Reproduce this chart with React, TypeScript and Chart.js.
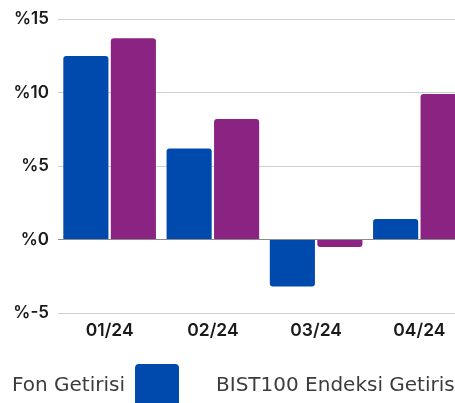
import React, { useEffect, useRef } from 'react';
import { Chart, registerables } from 'chart.js';

Chart.register(...registerables);

const categories = ['01/24', '02/24', '03/24', '04/24'];
const fundReturns = [12.5, 6.2, -3.2, 1.4];
const indexReturns = [13.7, 8.2, -0.5, 9.9];
const seriesNames = ['Fon Getirisi', 'BIST100 Endeksi Getirisi'];
const yTickValues = [-5, 0, 5, 10, 15];

const TICK_FONT = 'Inter, "Open Sans", sans-serif';
const LEGEND_FONT = '"DejaVu Sans", Inter, sans-serif';

export default function App() {
  const ref = useRef<HTMLCanvasElement>(null);

  useEffect(() => {
    if (!ref.current) return;
    const chart = new Chart(ref.current, {
      type: 'bar',
      data: {
        labels: categories,
        datasets: [
          {
            label: seriesNames[0],
            data: fundReturns,
            backgroundColor: '#004AAD',
            borderColor: '#004AAD',
            borderWidth: 0,
            borderRadius: 3,
            categoryPercentage: 0.92,
            barPercentage: 0.95,
          },
          {
            label: seriesNames[1],
            data: indexReturns,
            backgroundColor: '#8A2382',
            borderColor: '#8A2382',
            borderWidth: 0,
            borderRadius: 3,
            categoryPercentage: 0.92,
            barPercentage: 0.95,
          },
        ],
      },
      options: {
        animation: false,
        responsive: false,
        devicePixelRatio: 1,
        layout: { padding: 0 },
        scales: {
          x: {
            type: 'category',
            grid: { display: false },
            border: { display: false },
            ticks: {
              mirror: true,
              padding: -28,
              color: '#1a1a1a',
              font: { family: TICK_FONT, size: 17.5, weight: '600' },
            },
            afterFit: (s: any) => {
              s.height = 14;
            },
          },
          y: {
            type: 'linear',
            position: 'left',
            min: -5,
            max: 15,
            border: { display: false },
            grid: {
              drawTicks: false,
              lineWidth: 1,
              color: (ctx: any) => (ctx.tick && ctx.tick.value === 0 ? '#8a8a8a' : '#cfcfcf'),
            },
            afterBuildTicks: (s: any) => {
              s.ticks = yTickValues.map((v) => ({ value: v }));
            },
            ticks: {
              padding: 9,
              color: '#1a1a1a',
              font: { family: TICK_FONT, size: 17, weight: '600' },
              callback: (v: any) => '%' + v,
            },
            afterFit: (s: any) => {
              s.width = 83;
            },
          },
          yR: {
            type: 'linear',
            position: 'right',
            display: true,
            grid: { display: false },
            border: { display: false },
            ticks: { display: false },
            afterFit: (s: any) => {
              s.width = 104;
            },
          },
        },
        plugins: {
          tooltip: { enabled: false },
          legend: {
            display: true,
            position: 'bottom',
            align: 'end',
            rtl: true,
            reverse: true,
            textDirection: 'ltr',
            labels: {
              boxWidth: 44,
              boxHeight: 44,
              padding: 37,
              color: '#3c3c3c',
              useBorderRadius: true,
              borderRadius: 4,
              font: { family: LEGEND_FONT, size: 20, weight: '400' },
            },
          },
        },
      },
    } as any);
    return () => chart.destroy();
  }, []);

  return (
    <div style={{ position: 'fixed', left: 0, top: 0, width: 455, height: 403, overflow: 'hidden', background: '#fff' }}>
      <div style={{ position: 'absolute', left: -25, top: 0, width: 600, height: 418 }}>
        <canvas ref={ref} width={600} height={418} style={{ display: 'block' }} />
      </div>
    </div>
  );
}
